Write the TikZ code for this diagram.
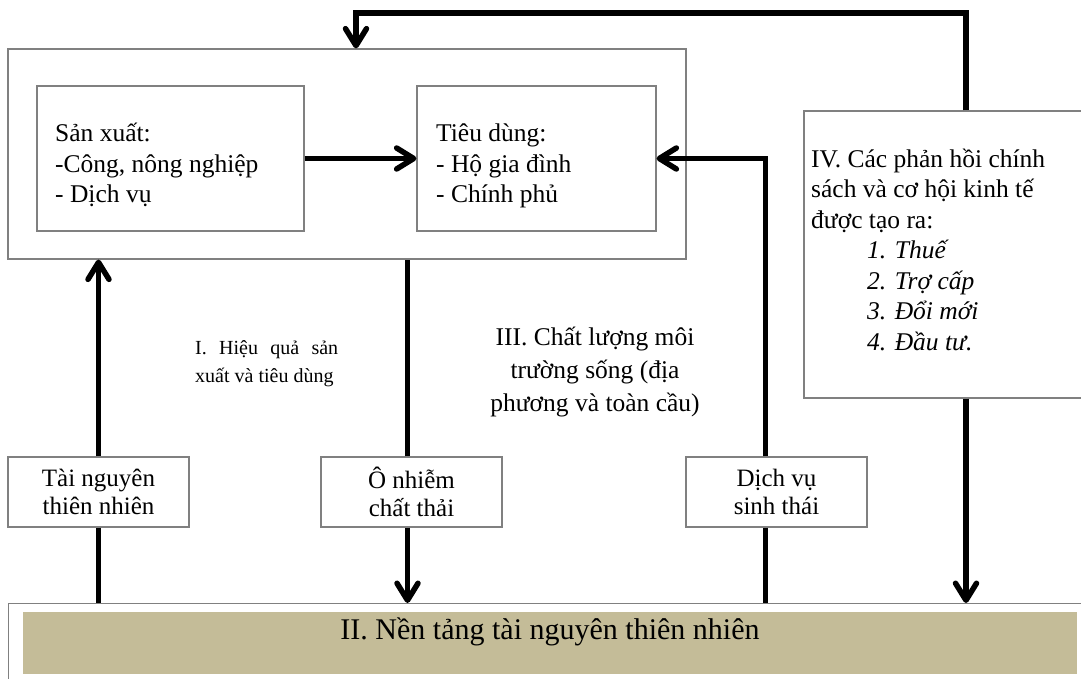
\documentclass[tikz,border=0pt]{standalone}
\usepackage{fontspec}
\setmainfont{Liberation Serif}
\usetikzlibrary{arrows.meta,positioning,calc}

\definecolor{boxgray}{RGB}{128,128,128}
\definecolor{basekhaki}{RGB}{196,188,152}

\newcommand{\boxtext}{\fontsize{25.5pt}{30.5pt}\selectfont}
\newcommand{\tagtext}{\fontsize{25pt}{28pt}\selectfont}
\newcommand{\notetext}{\fontsize{20pt}{28pt}\selectfont}
\newcommand{\qualtext}{\fontsize{25.5pt}{33pt}\selectfont}
\newcommand{\basetext}{\fontsize{30pt}{36pt}\selectfont}

\tikzset{
    box/.style={draw=boxgray, line width=1.2pt, fill=white, inner sep=0pt},
    tagbox/.style={box, minimum width=181pt, minimum height=70pt, align=center, font=\tagtext},
    flow/.style={line width=5.5pt, -{Straight Barb[length=17pt,width=21pt,round]}},
    link/.style={line width=5.5pt}
}

\begin{document}
\begin{tikzpicture}[x=1pt,y=-1pt]
    \useasboundingbox (0,0) rectangle (1081,679);

    % economy: production and consumption
    \node[box, minimum width=678pt, minimum height=210pt] (econ) at (347,154) {};
    \node[box, minimum width=267pt, minimum height=145pt] (prod) at (170.5,158.5) {};
    \node[box, minimum width=239pt, minimum height=145pt] (cons) at (536.5,158.5) {};
    \node[anchor=base west, align=left, font=\boxtext, inner sep=0pt] (prodtxt) at (55,203)
        {Sản xuất:\\-Công, nông nghiệp\\- Dịch vụ};
    \node[anchor=base west, align=left, font=\boxtext, inner sep=0pt] (constxt) at (436,203)
        {Tiêu dùng:\\- Hộ gia đình\\- Chính phủ};

    % policy feedback
    \node[box, minimum width=324pt, minimum height=287pt] (policy) at (966,254.5) {};
    \node[anchor=base west, align=left, font=\boxtext, inner sep=0pt] (policytxt) at (811,350)
        {IV. Các phản hồi chính\\sách và cơ hội kinh tế\\được tạo ra:\\
         \hspace*{56pt}\textit{1. Thuế}\\\hspace*{56pt}\textit{2. Trợ cấp}\\
         \hspace*{56pt}\textit{3. Đổi mới}\\\hspace*{56pt}\textit{4. Đầu tư.}};

    % natural resource base
    \node[box, minimum width=1082pt, minimum height=90pt, anchor=north west] (base) at (8,603) {};
    \node[fill=basekhaki, minimum width=1054pt, minimum height=62pt, anchor=north west, inner sep=0pt] (basebar) at (23,612) {};
    \node[anchor=base, font=\basetext, inner sep=0pt] (basetxt) at (550,639) {II. Nền tảng tài nguyên thiên nhiên};

    % flows between economy and environment
    \node[tagbox] (res) at (98.5,492) {Tài nguyên\\thiên nhiên};
    \node[tagbox] (poll) at (411.5,492) {Ô nhiễm\\chất thải};
    \node[tagbox] (svc) at (776.5,492) {Dịch vụ\\sinh thái};

    \node[anchor=north west, text width=143pt, align=justify, font=\notetext, inner sep=0pt] (effic) at (195,340)
        {I. Hiệu quả sản xuất và tiêu dùng};
    \node[anchor=base, align=center, font=\qualtext, inner sep=0pt] (quality) at (595,411)
        {III. Chất lượng môi\\trường sống (địa\\phương và toàn cầu)};

    % connectors
    \draw[flow] (prod.east) -- (cons.west);
    \draw[link] (res.south) -- (res.south |- base.north);
    \draw[flow] (res.north) -- (res.north |- econ.south);
    \draw[link] ([xshift=-4pt]poll.north) -- ([xshift=-4pt]poll.north |- econ.south);
    \draw[flow] ([xshift=-4pt]poll.south) -- ([xshift=-4pt]poll.south |- base.north);
    \draw[link] ([xshift=-11pt]svc.south) -- ([xshift=-11pt]svc.south |- base.north);
    \draw[flow] ([xshift=-11pt]svc.north) |- (cons.east);
    \draw[flow] (policy.south) -- (policy.south |- base.north);
    \coordinate (topright) at (966,13);
    \coordinate (topleft) at (356,13);
    \draw[flow] (policy.north) -- (topright) -- (topleft) -- (topleft |- econ.north);
\end{tikzpicture}
\end{document}
